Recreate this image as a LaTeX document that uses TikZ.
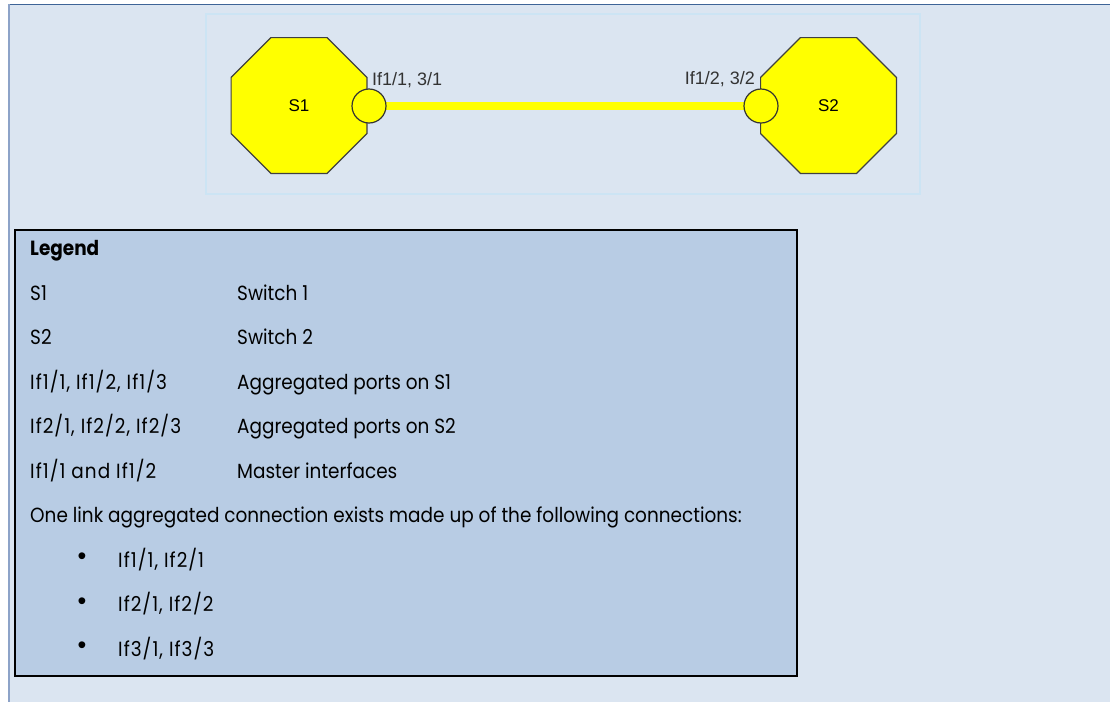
\documentclass[tikz,border=0pt]{standalone}
\usepackage{fontspec}
\setmainfont[FakeStretch=0.9, Numbers=Monospaced]{Poppins}
\newfontfamily\arialfont{Liberation Sans}
\usetikzlibrary{shapes.geometric, positioning}

\definecolor{pagebg}{HTML}{DBE5F1}
\definecolor{topline}{HTML}{3E6497}
\definecolor{sideline}{HTML}{8DA3C8}
\definecolor{arealine}{HTML}{CCE4F4}
\definecolor{lgdfill}{HTML}{B8CCE4}
\definecolor{swyellow}{HTML}{FFFF00}

\begin{document}
\begin{tikzpicture}[x=1pt, y=-1pt,
    switch/.style={regular polygon, regular polygon sides=8, minimum size=147pt,
        inner sep=0pt, fill=swyellow, draw=black!75, line width=1.2pt,
        font=\arialfont\fontsize{17}{20}\selectfont},
    port/.style={circle, minimum size=34pt, inner sep=0pt, fill=swyellow,
        draw=black!80, line width=1.2pt},
    portlabel/.style={inner sep=0pt, text=black!80,
        font=\arialfont\fontsize{18}{21}\selectfont},
    link/.style={swyellow, line width=8pt},
    lgd/.style={anchor=base west, inner sep=0pt, font=\fontsize{20.5}{24}\selectfont},
    iflbl/.style={lgd, font=\fontsize{20.5}{24}\selectfont\addfontfeature{LetterSpace=5}}]
    \useasboundingbox (0,0) rectangle (1110,702);
    \fill[white] (0,0) rectangle (1110,702);
    \fill[pagebg] (9,4.3) rectangle (1110,702);
    \draw[topline, line width=1.5pt] (9,4.3) -- (1110,4.3);
    \draw[sideline, line width=1.5pt] (9,4.3) -- (9,702);
    \draw[arealine, line width=1.5pt] (206,14) rectangle (920,194);

    \node[switch] (s1) at (299,105.5) {S1};
    \node[switch] (s2) at (828.5,105.5) {S2};
    \draw[link] (s1.east) -- (s2.west);
    \node[port] (p1) at (369,106) {};
    \node[port] (p2) at (761,106) {};
    \node[portlabel, anchor=base west] (l1) at (372,85.5) {If1/1, 3/1};
    \node[portlabel, anchor=base east] (l2) at (755,84.5) {If1/2, 3/2};

    \draw[black, line width=2pt, fill=lgdfill] (14.7,230) rectangle (797,675.5);
    \node[lgd, font=\fontsize{20.5}{24}\selectfont\bfseries] (title) at (30,255.5) {Legend};
    \node[lgd] (k1) at (30,300) {S1};
    \node[lgd] (v1) at (237,300) {Switch 1};
    \node[lgd] (k2) at (30,344.5) {S2};
    \node[lgd] (v2) at (237,344.5) {Switch 2};
    \node[iflbl] (k3) at (30,389) {If1/1, If1/2, If1/3};
    \node[lgd] (v3) at (237,389) {Aggregated ports on S1};
    \node[iflbl] (k4) at (30,433.5) {If2/1, If2/2, If2/3};
    \node[lgd] (v4) at (237,433.5) {Aggregated ports on S2};
    \node[iflbl] (k5) at (30,478) {If1/1 and If1/2};
    \node[lgd] (v5) at (237,478) {Master interfaces};
    \node[lgd] (note) at (30,522.5) {One link aggregated connection exists made up of the following connections:};
    \foreach \txt [count=\k] in {{If1/1, If2/1},{If2/1, If2/2},{If3/1, If3/3}} {
        \node[lgd, anchor=base, font=\arialfont\fontsize{25}{28}\selectfont] (dot\k) at (82,520+44.5*\k) {\textbullet};
        \node[iflbl] (item\k) at (118,522.5+44.5*\k) {\txt};
    }
\end{tikzpicture}
\end{document}
